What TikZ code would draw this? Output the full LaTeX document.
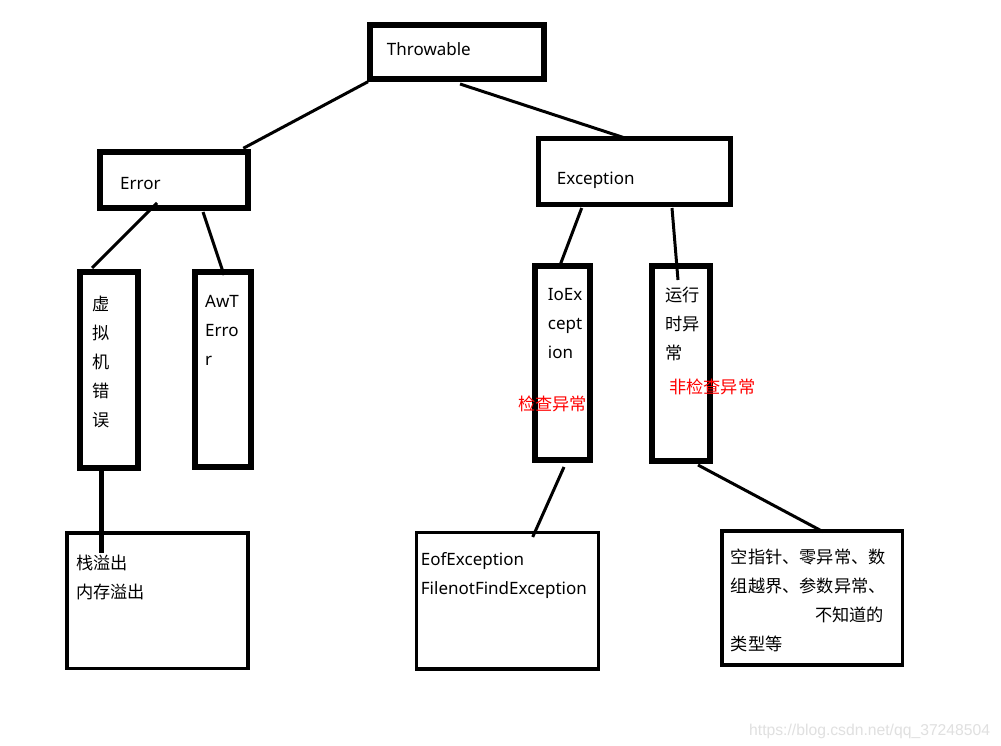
\documentclass[tikz,border=0pt]{standalone}
\usepackage{fontspec}
\setmainfont{Noto Sans}
\newfontfamily\cjk{Noto Sans CJK SC}
\newfontfamily\wmfont{Liberation Sans}
\begin{document}
\begin{tikzpicture}[x=1pt,y=-1pt,
  bbox/.style={draw=black, line width=6pt, inner sep=0pt, outer sep=0pt},
  tbox/.style={draw=black, line width=3.5pt, inner sep=0pt, outer sep=0pt},
  conn/.style={draw=black, line width=3pt},
  lat/.style={anchor=base west, inner sep=0pt, font=\fontsize{17}{20}\selectfont},
  cn/.style={anchor=base west, inner sep=0pt, font=\cjk\fontsize{17.2}{20}\selectfont},
  redcn/.style={cn, text=red}]
\path[use as bounding box, fill=white] (0,0) rectangle (1001,746);

% boxes
\node[bbox, minimum width=174pt, minimum height=53.4pt] (thr) at (456.7,52) {};
\node[bbox, minimum width=148.5pt, minimum height=56pt] (err) at (173.75,180) {};
\node[bbox, minimum width=57.4pt, minimum height=195.4pt] (vm) at (109,370) {};
\node[bbox, minimum width=56.5pt, minimum height=195pt] (awt) at (222.75,369.5) {};
\node[tbox, minimum width=181pt, minimum height=135.5pt] (stk) at (157.5,600.75) {};
\node[bbox, line width=5pt, minimum width=192pt, minimum height=66pt] (exc) at (634,172) {};
\node[bbox, minimum width=55.5pt, minimum height=194.5pt] (ioe) at (562.25,362.75) {};
\node[bbox, minimum width=58pt, minimum height=195pt] (rte) at (681,363.5) {};
\node[tbox, minimum width=182pt, minimum height=136.5pt] (eof) at (507.5,600.75) {};
\node[tbox, minimum width=180.5pt, minimum height=134pt] (oth) at (812.25,598) {};

% connector ends
\coordinate (c1a) at (368,81.7);   \coordinate (c1b) at (243.3,148.3);
\coordinate (c2a) at (460,84);     \coordinate (c2b) at (628,139);
\coordinate (c3a) at (157,203);    \coordinate (c3b) at (92,268);
\coordinate (c4a) at (203,212);    \coordinate (c4b) at (224,275);
\coordinate (c5a) at (101.7,470);  \coordinate (c5b) at (101.7,553);
\coordinate (c6a) at (581.7,208);  \coordinate (c6b) at (559,268);
\coordinate (c7a) at (672,208);    \coordinate (c7b) at (678,280);
\coordinate (c8a) at (564,467);    \coordinate (c8b) at (532.7,537);
\coordinate (c9a) at (698,465);    \coordinate (c9b) at (823,531.7);

\draw[conn] (c1a) -- (c1b);
\draw[conn] (c2a) -- (c2b);
\draw[conn] (c3a) -- (c3b);
\draw[conn] (c4a) -- (c4b);
\draw[conn, line width=5pt] (c5a) -- (c5b);
\draw[conn] (c6a) -- (c6b);
\draw[conn] (c7a) -- (c7b);
\draw[conn] (c8a) -- (c8b);
\draw[conn] (c9a) -- (c9b);

% texts
\node[lat] (tthr) at (386.7,55.5) {Throwable};
\node[lat] (terr) at (120,189.5) {Error};
\node[cn] (tvm1) at (92.7,310.5) {虚};
\node[cn] (tvm2) at (92.7,339.5) {拟};
\node[cn] (tvm3) at (92.7,368.5) {机};
\node[cn] (tvm4) at (92.7,397.5) {错};
\node[cn] (tvm5) at (92.7,426.5) {误};
\node[lat] (tawt1) at (205,307.7) {AwT};
\node[lat] (tawt2) at (205,336.7) {Erro};
\node[lat] (tawt3) at (205,365.7) {r};
\node[cn] (tstk1) at (76,569) {栈溢出};
\node[cn] (tstk2) at (76,598) {内存溢出};
\node[lat] (texc) at (556.7,185) {Exception};
\node[lat] (tioe1) at (547.7,300) {IoEx};
\node[lat] (tioe2) at (547.7,329) {cept};
\node[lat] (tioe3) at (547.7,358) {ion};
\node[redcn] (tchk) at (518,410.5) {检查异常};
\node[cn] (trte1) at (665,301.5) {运行};
\node[cn] (trte2) at (665,330.5) {时异};
\node[cn] (trte3) at (665,359.5) {常};
\node[redcn] (tnchk) at (669,393) {非检查异常};
\node[lat] (teof1) at (420.7,565.5) {EofException};
\node[lat] (teof2) at (420.7,594.5) {FilenotFindException};
\node[cn] (toth1) at (730.7,563) {空指针、零异常、数};
\node[cn] (toth2) at (730.7,592.5) {组越界、参数异常、};
\node[cn] (toth3) at (815,621.5) {不知道的};
\node[cn] (toth4) at (730.7,650) {类型等};
\node[anchor=base west, inner sep=0pt, text=black!12, font=\wmfont\fontsize{15.7}{17}\selectfont] (wm) at (749,735) {https://blog.csdn.net/qq\_37248504};
\end{tikzpicture}
\end{document}
